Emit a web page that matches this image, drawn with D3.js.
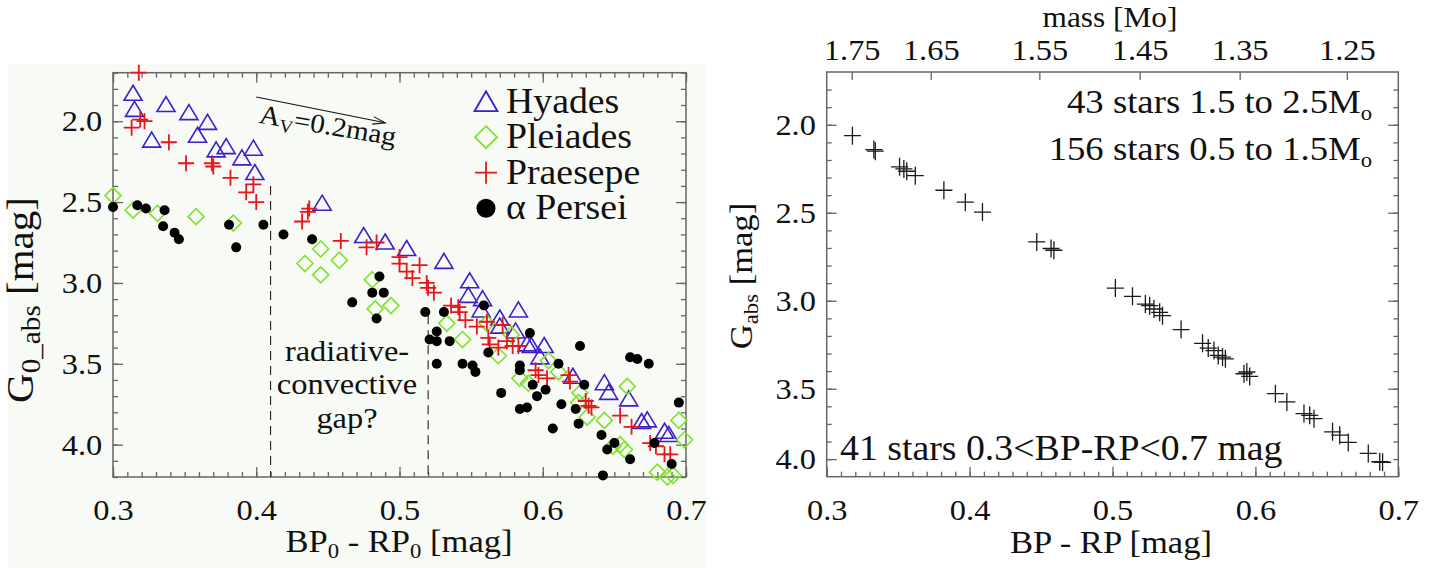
<!doctype html>
<html lang="en">
<head>
<meta charset="utf-8">
<title>Colour-magnitude diagrams of open clusters</title>
<script src="https://d3js.org/d3.v7.min.js"></script>
<style>
  html, body { margin: 0; padding: 0; background: #fff; }
  svg { display: block; }
  text { font-family: "Liberation Serif", "Times New Roman", serif; fill: #111; }
  .axis path { display: none; }
  .axis line { stroke: #666; stroke-width: 1.3; }
  .axis text { font-size: 30px; fill: #111; }
  .frame { fill: none; stroke: #666; stroke-width: 1.5; }
</style>
</head>
<body>
<svg id="chart" width="1440" height="568"></svg>
<script>
// ---------- data ----------
// left panel: de-reddened colour vs absolute G for four clusters
var hyadesX = [0.314, 0.315, 0.327, 0.337, 0.353, 0.366, 0.359, 0.372, 0.379, 0.390, 0.398, 0.399,
  0.446, 0.475, 0.490, 0.505, 0.531, 0.549, 0.548, 0.558, 0.557, 0.570, 0.570, 0.583, 0.581,
  0.589, 0.592, 0.601, 0.598, 0.621, 0.643, 0.646, 0.660, 0.669, 0.673, 0.685, 0.688];
var hyadesY = [1.83, 1.93, 2.12, 1.90, 1.95, 2.01, 2.09, 2.18, 2.16, 2.23, 2.17, 2.32,
  2.51, 2.71, 2.75, 2.79, 2.87, 2.99, 3.08, 3.10, 3.17, 3.22, 3.27, 3.17, 3.30,
  3.38, 3.39, 3.39, 3.46, 3.58, 3.62, 3.68, 3.72, 3.86, 3.85, 3.92, 3.94];

var pleiadesX = [0.300, 0.314, 0.331, 0.358, 0.384, 0.445, 0.458, 0.434, 0.445, 0.481, 0.483, 0.494,
  0.533, 0.544, 0.561, 0.569, 0.578, 0.584, 0.590, 0.604, 0.611, 0.626, 0.625, 0.631, 0.643,
  0.659, 0.649, 0.654, 0.657, 0.680, 0.687, 0.691, 0.695, 0.699];
var pleiadesY = [2.46, 2.55, 2.57, 2.59, 2.63, 2.79, 2.86, 2.88, 2.95, 2.98, 3.16, 3.14,
  3.25, 3.35, 3.25, 3.45, 3.32, 3.59, 3.62, 3.48, 3.55, 3.68, 3.74, 3.83, 3.85,
  3.64, 4.01, 4.00, 4.03, 4.17, 4.20, 4.19, 3.85, 3.97];

var praesepeX = [0.318, 0.313, 0.319, 0.322, 0.339, 0.351, 0.369, 0.370, 0.382, 0.393, 0.398, 0.400,
  0.432, 0.436, 0.437, 0.459, 0.477, 0.484, 0.500, 0.500, 0.505, 0.509, 0.514, 0.519, 0.520,
  0.524, 0.536, 0.541, 0.542, 0.546, 0.554, 0.561, 0.562, 0.563, 0.569, 0.572, 0.575, 0.579,
  0.583, 0.595, 0.597, 0.603, 0.618, 0.619, 0.630, 0.632, 0.634, 0.654, 0.662, 0.675, 0.679,
  0.685, 0.689];
var praesepeY = [1.70, 2.04, 1.99, 2.00, 2.13, 2.26, 2.26, 2.28, 2.35, 2.44, 2.39, 2.50,
  2.62, 2.56, 2.54, 2.74, 2.78, 2.75, 2.84, 2.88, 2.93, 2.97, 2.89, 3.00, 3.03,
  3.06, 3.14, 3.15, 3.18, 3.23, 3.27, 3.24, 3.34, 3.38, 3.40, 3.26, 3.36, 3.39,
  3.39, 3.54, 3.57, 3.59, 3.57, 3.61, 3.73, 3.76, 3.77, 3.82, 3.89, 3.99, 4.01,
  4.06, 4.06];

var alphaPerX = [0.300, 0.317, 0.323, 0.336, 0.335, 0.343, 0.346, 0.381, 0.386, 0.405, 0.419, 0.439,
  0.486, 0.481, 0.489, 0.467, 0.484, 0.518, 0.531, 0.526, 0.521, 0.526, 0.535, 0.526, 0.544,
  0.551, 0.553, 0.559, 0.562, 0.571, 0.584, 0.584, 0.591, 0.584, 0.589, 0.593, 0.596, 0.602,
  0.611, 0.613, 0.623, 0.625, 0.607, 0.626, 0.629, 0.641, 0.645, 0.650, 0.642, 0.661, 0.661,
  0.666, 0.674, 0.678, 0.690, 0.695];
var alphaPerY = [2.53, 2.52, 2.54, 2.55, 2.65, 2.69, 2.73, 2.64, 2.78, 2.64, 2.70, 2.73,
  2.96, 3.06, 3.06, 3.12, 3.22, 3.18, 3.18, 3.30, 3.35, 3.36, 3.36, 3.50, 3.50,
  3.51, 3.55, 3.14, 3.43, 3.68, 3.51, 3.54, 3.31, 3.78, 3.77, 3.63, 3.70, 3.66,
  3.50, 3.75, 3.78, 3.87, 3.90, 3.39, 3.63, 3.94, 4.03, 3.99, 4.19, 4.09, 3.46,
  3.47, 3.50, 3.99, 4.12, 3.74];

var clusterNames = ["Hyades", "Pleiades", "Praesepe", "\u03b1 Persei"];

// gap markers (colour, top of dashed line in mag)
var gapColours = [0.41, 0.52];
var gapTops = [2.40, 3.20];

// reddening vector A_V = 0.2 mag
var avStart = [0.400, 1.85];
var avEnd = [0.490, 2.01];

// right panel: 41 stars 0.3 < BP-RP < 0.7
var starsX = [0.318, 0.333, 0.334, 0.351, 0.354, 0.356, 0.362, 0.382, 0.397, 0.409, 0.447, 0.457,
  0.459, 0.502, 0.514, 0.523, 0.526, 0.529, 0.533, 0.535, 0.548, 0.563, 0.567, 0.571, 0.574,
  0.577, 0.579, 0.592, 0.594, 0.596, 0.614, 0.622, 0.634, 0.638, 0.641, 0.654, 0.659, 0.665,
  0.679, 0.687, 0.689];
var starsY = [2.062, 2.141, 2.150, 2.239, 2.251, 2.264, 2.289, 2.372, 2.440, 2.496, 2.666, 2.703,
  2.713, 2.928, 2.975, 3.019, 3.028, 3.047, 3.066, 3.085, 3.164, 3.242, 3.269, 3.283, 3.311,
  3.320, 3.330, 3.415, 3.405, 3.430, 3.528, 3.575, 3.641, 3.651, 3.670, 3.745, 3.764, 3.805,
  3.868, 3.915, 3.918];

// ticks
var colourTicks = [0.3, 0.4, 0.5, 0.6, 0.7];
var colourTickLabels = ["0.3", "0.4", "0.5", "0.6", "0.7"];
var magTicksL = [2.0, 2.5, 3.0, 3.5, 4.0];
var magTickLabelsL = ["2.0", "2.5", "3.0", "3.5", "4.0"];
var magTicksR = [2.0, 2.5, 3.0, 3.5, 3.9];
var magTickLabelsR = ["2.0", "2.5", "3.0", "3.5", "4.0"];
var massTickColours = [0.3175, 0.3728, 0.4488, 0.519, 0.589, 0.664];
var massTickLabels = ["1.75", "1.65", "1.55", "1.45", "1.35", "1.25"];

// ---------- drawing ----------
var SX = 1.08; // the original font is a little wider than Times
var svg = d3.select("#chart");

function label(sel, x, y, anchor, size, rot) {
  return sel.append("text")
    .attr("transform", "translate(" + x + "," + y + ")" + (rot ? " rotate(" + rot + ")" : "") + " scale(" + SX + ",1)")
    .attr("text-anchor", anchor)
    .style("font-size", size + "px");
}

function sub(t, str, size, dy) {
  t.append("tspan").attr("dy", dy).style("font-size", size + "px").text(str);
  return t;
}

function minorRange(a, b, step) {
  var out = [];
  for (var v = Math.round(a / step); v <= Math.round(b / step) + 1e-9; v++) out.push(+(v * step).toFixed(4));
  return out;
}

function styleTickText(g) {
  g.selectAll("text").attr("transform", "scale(" + SX + ",1)");
}

// left panel background
svg.append("rect").attr("x", 8).attr("y", 64).attr("width", 698).attr("height", 504).attr("fill", "#f7faf5");

// ===== left panel =====
var xL = d3.scaleLinear().domain([0.3, 0.7]).range([113, 686]);
var yL = d3.scaleLinear().domain([1.7, 4.2]).range([72.7, 477]);
var left = svg.append("g");

var minorColour = minorRange(0.3, 0.7, 0.01);
var minorMagL = minorRange(1.7, 4.2, 0.1);

left.append("g").attr("class", "axis").attr("transform", "translate(0," + yL.range()[1] + ")")
  .call(d3.axisBottom(xL).tickValues(minorColour).tickFormat("").tickSizeInner(-5).tickSizeOuter(0));
left.append("g").attr("class", "axis").attr("transform", "translate(0," + yL.range()[1] + ")")
  .call(d3.axisBottom(xL).tickValues(colourTicks).tickFormat(function(d, i) { return colourTickLabels[i]; })
    .tickSizeInner(-10).tickSizeOuter(0).tickPadding(22)).call(styleTickText);
left.append("g").attr("class", "axis").attr("transform", "translate(0," + yL.range()[0] + ")")
  .call(d3.axisTop(xL).tickValues(minorColour).tickFormat("").tickSizeInner(-5).tickSizeOuter(0));
left.append("g").attr("class", "axis").attr("transform", "translate(0," + yL.range()[0] + ")")
  .call(d3.axisTop(xL).tickValues(colourTicks).tickFormat("").tickSizeInner(-10).tickSizeOuter(0));

left.append("g").attr("class", "axis").attr("transform", "translate(" + xL.range()[0] + ",0)")
  .call(d3.axisLeft(yL).tickValues(minorMagL).tickFormat("").tickSizeInner(-5).tickSizeOuter(0));
left.append("g").attr("class", "axis").attr("transform", "translate(" + xL.range()[0] + ",0)")
  .call(d3.axisLeft(yL).tickValues(magTicksL).tickFormat(function(d, i) { return magTickLabelsL[i]; })
    .tickSizeInner(-10).tickSizeOuter(0).tickPadding(10)).call(styleTickText);
left.append("g").attr("class", "axis").attr("transform", "translate(" + xL.range()[1] + ",0)")
  .call(d3.axisRight(yL).tickValues(minorMagL).tickFormat("").tickSizeInner(-5).tickSizeOuter(0));
left.append("g").attr("class", "axis").attr("transform", "translate(" + xL.range()[1] + ",0)")
  .call(d3.axisRight(yL).tickValues(magTicksL).tickFormat("").tickSizeInner(-10).tickSizeOuter(0));

left.append("rect").attr("class", "frame")
  .attr("x", xL.range()[0]).attr("y", yL.range()[0])
  .attr("width", xL.range()[1] - xL.range()[0]).attr("height", yL.range()[1] - yL.range()[0]);

// dashed gap lines
left.selectAll("line.gap").data(gapColours).enter().append("line")
  .attr("class", "gap")
  .attr("x1", function(d) { return xL(d); }).attr("x2", function(d) { return xL(d); })
  .attr("y1", function(d, i) { return yL(gapTops[i]); }).attr("y2", yL.range()[1])
  .attr("stroke", "#222").attr("stroke-width", 1.1).attr("stroke-dasharray", "9,6");

// symbols
var symTri = "M0,-8.5L9,6.5L-9,6.5Z";
var symDia = "M0,-8L8,0L0,8L-8,0Z";
var symPlus = "M-8,0H8M0,-8V8";

function scatter(g, xs, ys, path, stroke, sw) {
  g.append("g").selectAll("path").data(xs).enter().append("path")
    .attr("d", path)
    .attr("transform", function(d, i) { return "translate(" + xL(d) + "," + yL(ys[i]) + ")"; })
    .attr("fill", "none").attr("stroke", stroke).attr("stroke-width", sw);
}
scatter(left, hyadesX, hyadesY, symTri, "#3d1fcc", 1.6);
scatter(left, pleiadesX, pleiadesY, symDia, "#7fe22e", 1.6);
scatter(left, praesepeX, praesepeY, symPlus, "#e8151c", 1.8);
left.append("g").selectAll("circle").data(alphaPerX).enter().append("circle")
  .attr("cx", function(d) { return xL(d); })
  .attr("cy", function(d, i) { return yL(alphaPerY[i]); })
  .attr("r", 5).attr("fill", "#000");

// legend
var legend = left.append("g");
var legendSyms = [
  { d: "M0,-10.5L11.5,9.5L-11.5,9.5Z", stroke: "#3d1fcc", sw: 1.8 },
  { d: "M0,-11L11,0L0,11L-11,0Z", stroke: "#7fe22e", sw: 1.8 },
  { d: "M-11,0H11M0,-11V11", stroke: "#e8151c", sw: 1.8 }
];
clusterNames.forEach(function(name, i) {
  var cy = 101.7 + i * 35.5;
  if (i < 3) {
    legend.append("path").attr("d", legendSyms[i].d)
      .attr("transform", "translate(486," + cy + ")")
      .attr("fill", "none").attr("stroke", legendSyms[i].stroke).attr("stroke-width", legendSyms[i].sw);
  } else {
    legend.append("circle").attr("cx", 486).attr("cy", cy).attr("r", 9.5).attr("fill", "#000");
  }
  label(legend, 506, cy + 11, "start", 35).text(name);
});

// reddening arrow
var ax1 = xL(avStart[0]), ay1 = yL(avStart[1]), ax2 = xL(avEnd[0]), ay2 = yL(avEnd[1]);
var ang = Math.atan2(ay2 - ay1, ax2 - ax1);
left.append("line").attr("x1", ax1).attr("y1", ay1).attr("x2", ax2).attr("y2", ay2)
  .attr("stroke", "#111").attr("stroke-width", 1.1);
left.append("path")
  .attr("d", "M" + (ax2 - 13 * Math.cos(ang - 0.3)) + "," + (ay2 - 13 * Math.sin(ang - 0.3)) +
    "L" + ax2 + "," + ay2 +
    "L" + (ax2 - 13 * Math.cos(ang + 0.3)) + "," + (ay2 - 13 * Math.sin(ang + 0.3)))
  .attr("fill", "none").attr("stroke", "#111").attr("stroke-width", 1.1);
var av = label(left, ax1 + 2, ay2, "start", 27, 9.5);
av.append("tspan").text("A");
sub(av, "V", 18, 5);
av.append("tspan").attr("dy", -5).text("=0.2mag");

// gap annotation
var gapLines = ["radiative-", "convective", "gap?"];
var gapBase = [361, 394, 428];
gapLines.forEach(function(s, i) { label(left, 347, gapBase[i], "middle", 30).text(s); });

// axis titles
var lxt = label(left, 399, 552, "middle", 32);
lxt.append("tspan").text("BP");
sub(lxt, "0", 21, 6);
lxt.append("tspan").attr("dy", -6).text(" - RP");
sub(lxt, "0", 21, 6);
lxt.append("tspan").attr("dy", -6).text(" [mag]");

var lyt = label(left, 33, 300, "middle", 38, -90);
lyt.append("tspan").text("G");
sub(lyt, "0_abs", 27, 7);
lyt.append("tspan").attr("dy", -7).text(" [mag]");

// ===== right panel =====
var xR = d3.scaleLinear().domain([0.3, 0.7]).range([826.7, 1398.3]);
var yR = d3.scaleLinear().domain([1.7, 4.0]).range([72, 476.7]);
var right = svg.append("g");
var minorMagR = minorRange(1.8, 3.9, 0.1);

right.append("g").attr("class", "axis").attr("transform", "translate(0," + yR.range()[1] + ")")
  .call(d3.axisBottom(xR).tickValues(minorColour).tickFormat("").tickSizeInner(-5).tickSizeOuter(0));
right.append("g").attr("class", "axis").attr("transform", "translate(0," + yR.range()[1] + ")")
  .call(d3.axisBottom(xR).tickValues(colourTicks).tickFormat(function(d, i) { return colourTickLabels[i]; })
    .tickSizeInner(-10).tickSizeOuter(0).tickPadding(22)).call(styleTickText);
right.append("g").attr("class", "axis").attr("transform", "translate(0," + yR.range()[0] + ")")
  .call(d3.axisTop(xR).tickValues(massTickColours).tickFormat(function(d, i) { return massTickLabels[i]; })
    .tickSizeInner(-8).tickSizeOuter(0).tickPadding(12)).call(styleTickText);

right.append("g").attr("class", "axis").attr("transform", "translate(" + xR.range()[0] + ",0)")
  .call(d3.axisLeft(yR).tickValues(minorMagR).tickFormat("").tickSizeInner(-5).tickSizeOuter(0));
right.append("g").attr("class", "axis").attr("transform", "translate(" + xR.range()[0] + ",0)")
  .call(d3.axisLeft(yR).tickValues(magTicksR).tickFormat(function(d, i) { return magTickLabelsR[i]; })
    .tickSizeInner(-10).tickSizeOuter(0).tickPadding(10)).call(styleTickText);
right.append("g").attr("class", "axis").attr("transform", "translate(" + xR.range()[1] + ",0)")
  .call(d3.axisRight(yR).tickValues(minorMagR).tickFormat("").tickSizeInner(-5).tickSizeOuter(0));
right.append("g").attr("class", "axis").attr("transform", "translate(" + xR.range()[1] + ",0)")
  .call(d3.axisRight(yR).tickValues(magTicksL.slice(0, 4)).tickFormat("").tickSizeInner(-10).tickSizeOuter(0));

right.append("rect").attr("class", "frame")
  .attr("x", xR.range()[0]).attr("y", yR.range()[0])
  .attr("width", xR.range()[1] - xR.range()[0]).attr("height", yR.range()[1] - yR.range()[0]);

right.append("g").selectAll("path").data(starsX).enter().append("path")
  .attr("d", "M-8.5,0H8.5M0,-9V9")
  .attr("transform", function(d, i) { return "translate(" + xR(d) + "," + yR(starsY[i]) + ")"; })
  .attr("fill", "none").attr("stroke", "#1a1a1a").attr("stroke-width", 1.3);

// annotations
var a1 = label(right, 1372, 113, "end", 34);
a1.append("tspan").text("43 stars 1.5 to 2.5M");
sub(a1, "o", 21, 7);
var a2 = label(right, 1372, 160, "end", 34);
a2.append("tspan").text("156 stars 0.5 to 1.5M");
sub(a2, "o", 21, 7);
label(right, 840, 460, "start", 35).text("41 stars 0.3<BP-RP<0.7 mag");

// titles
label(right, 1111, 553, "middle", 32).text("BP - RP [mag]");
label(right, 1110, 27, "middle", 29).text("mass [Mo]");
var ryt = label(right, 752, 276, "middle", 32, -90);
ryt.append("tspan").text("G");
sub(ryt, "abs", 21, 6);
ryt.append("tspan").attr("dy", -6).text(" [mag]");
</script>
</body>
</html>
